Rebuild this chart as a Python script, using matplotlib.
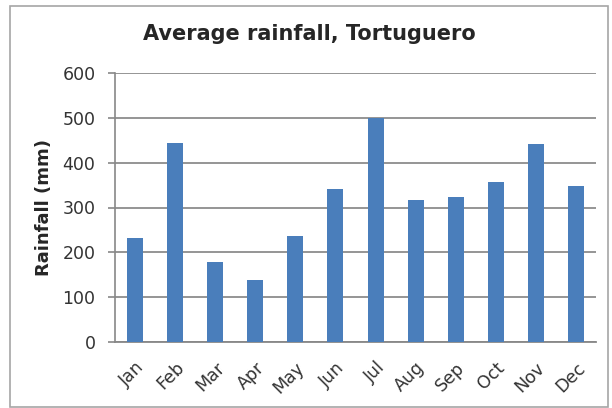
import matplotlib.pyplot as plt
import numpy as np

# --- datos ---
meses = ['Jan', 'Feb', 'Mar', 'Apr', 'May', 'Jun',
         'Jul', 'Aug', 'Sep', 'Oct', 'Nov', 'Dec']
lluvia = [232, 444, 179, 139, 237, 341, 500, 317, 323, 357, 442, 349]
ticks_y = [0, 100, 200, 300, 400, 500, 600]

plt.rcParams['font.family'] = ['DejaVu Sans']

fig = plt.figure(figsize=(6.12, 4.08), dpi=100)
ax = fig.add_axes([115 / 612, 1 - 342 / 408, (596 - 115) / 612, (342 - 73) / 408])

x = np.arange(len(meses))
ax.bar(x, lluvia, width=0.4, color='#4a7ebb', zorder=3)

ax.set_xlim(-0.5, len(meses) - 0.5)
ax.set_ylim(0, 600)
ax.set_yticks(ticks_y)
ax.set_yticklabels([str(t) for t in ticks_y], fontsize=12.5, color='#333333')
ax.set_xticks(x)
ax.set_xticklabels(meses, rotation=45, ha='right', rotation_mode='anchor',
                   fontsize=12.5, color='#333333')
ax.tick_params(axis='x', length=0, pad=12)
ax.tick_params(axis='y', length=5, color='#888888', width=1.2, pad=9)

ax.grid(axis='y', color='#8c8c8c', linewidth=1.3, zorder=0)
for s in ['top', 'right']:
    ax.spines[s].set_visible(False)
ax.spines['left'].set_color('#888888')
ax.spines['bottom'].set_color('#888888')
ax.spines['left'].set_linewidth(1.2)
ax.spines['bottom'].set_linewidth(1.3)

ax.set_ylabel('Rainfall (mm)', fontsize=13, fontweight='bold', color='#262626', labelpad=7)
fig.text(309 / 612, 1 - 34 / 408, 'Average rainfall, Tortuguero', ha='center', va='center',
         fontsize=15, fontweight='bold', color='#262626')

# borde del gráfico
borde = plt.Rectangle((10 / 612, 1 / 408), 598 / 612, 401 / 408, transform=fig.transFigure,
                      fill=False, edgecolor='#a6a6a6', linewidth=1.2)
fig.patches.append(borde)

fig.savefig('out.png', dpi=100)
